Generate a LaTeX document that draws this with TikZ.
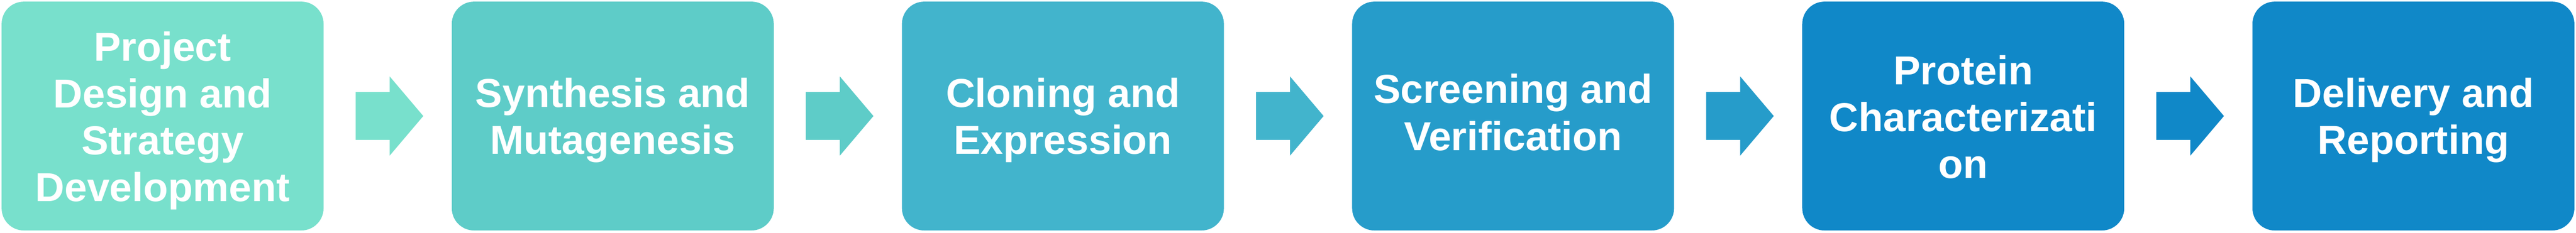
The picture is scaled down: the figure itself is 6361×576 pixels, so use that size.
\documentclass[tikz,border=0pt]{standalone}
\usepackage{fontspec}
\setmainfont{Liberation Sans}
\usetikzlibrary{calc}
\definecolor{cA}{HTML}{78E0CC}
\definecolor{cB}{HTML}{5ECCC8}
\definecolor{cC}{HTML}{42B4CC}
\definecolor{cD}{HTML}{269CCA}
\definecolor{cE}{HTML}{1088C8}
\definecolor{cF}{HTML}{1088C8}
\tikzset{
  stepbox/.style={rectangle, rounded corners=55pt, minimum width=795pt, minimum height=566pt, inner sep=0pt, draw=none},
  steptext/.style={anchor=north, inner sep=0pt, align=center, text=white, font=\fontsize{100}{116}\selectfont\bfseries}
}
\newcommand\flowarrow[2]{%
  \fill[#2] ($(#1.east)+(79,59)$) -- ($(#1.east)+(163,59)$) -- ($(#1.east)+(163,98)$)
    -- ($(#1.east)+(246,0)$) -- ($(#1.east)+(163,-98)$) -- ($(#1.east)+(163,-59)$)
    -- ($(#1.east)+(79,-59)$) -- cycle;}
\begin{document}
\begin{tikzpicture}[x=1pt,y=1pt]
\useasboundingbox (0,0) rectangle (6361,576);
\node[stepbox, fill=cA] (b1) at (401.5,289) {};
\node[stepbox, fill=cB] (b2) at (1513.1,289) {};
\node[stepbox, fill=cC] (b3) at (2624.7,289) {};
\node[stepbox, fill=cD] (b4) at (3736.3,289) {};
\node[stepbox, fill=cE] (b5) at (4847.9,289) {};
\node[stepbox, fill=cF] (b6) at (5959.5,289) {};
\node[steptext] (t1) at (b1.center |- 0,498) {Project\\Design and\\Strategy\\Development};
\node[steptext] (t2) at (b2.center |- 0,383) {Synthesis and\\Mutagenesis};
\node[steptext] (t3) at (b3.center |- 0,383) {Cloning and\\Expression};
\node[steptext] (t4) at (b4.center |- 0,393) {Screening and\\Verification};
\node[steptext] (t5) at (b5.center |- 0,440) {Protein\\Characterizati\\on};
\node[steptext] (t6) at (b6.center |- 0,383) {Delivery and\\Reporting};
\flowarrow{b1}{cA}
\flowarrow{b2}{cB}
\flowarrow{b3}{cC}
\flowarrow{b4}{cD}
\flowarrow{b5}{cE}
\end{tikzpicture}
\end{document}
